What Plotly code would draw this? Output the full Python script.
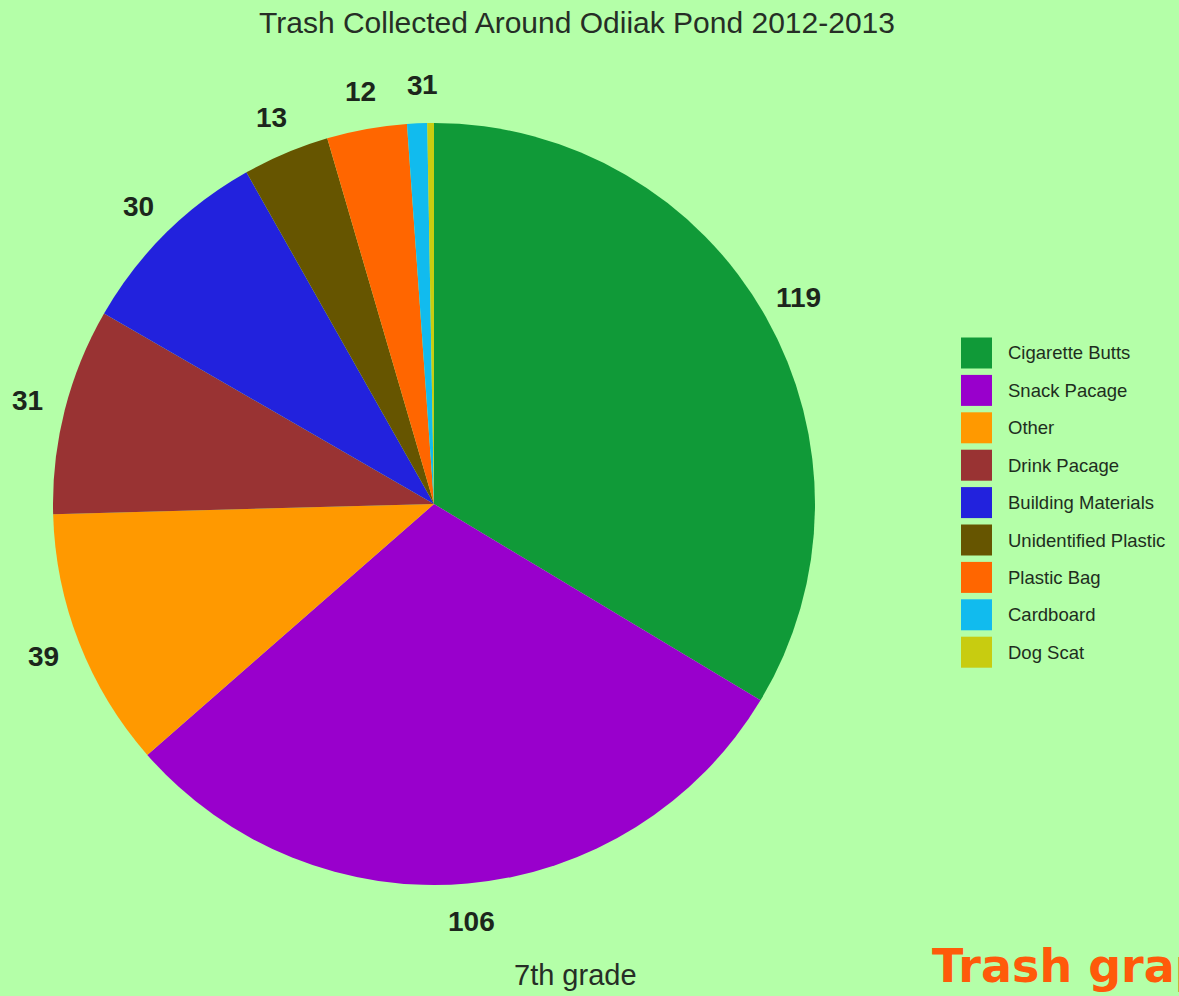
import math
import plotly.graph_objects as go

# ---- data ----
categories = ["Cigarette Butts", "Snack Pacage", "Other", "Drink Pacage",
              "Building Materials", "Unidentified Plastic", "Plastic Bag",
              "Cardboard", "Dog Scat"]
counts = [119, 106, 39, 31, 30, 13, 12, 3, 1]
colors = ["#109A38", "#9900CC", "#FF9900", "#993333", "#2222DD",
          "#665500", "#FF6600", "#11BBEE", "#C8CC10"]

title_text = "Trash Collected Around Odiiak Pond 2012-2013"
footer_text = "7th grade"
corner_text = "Trash graph"

# ---- layout constants (pixels) ----
W, H = 1179, 996
CX, CY, R = 434, 504, 381
LABEL_R = 1.10 * R
BG = "#B4FFA8"
TEXT_DARK = "#1C261C"

fig = go.Figure()
fig.add_trace(go.Pie(
    labels=categories,
    values=counts,
    marker=dict(colors=colors, line=dict(width=0)),
    sort=False,
    direction="clockwise",
    rotation=0,
    textinfo="none",
    hoverinfo="label+value+percent",
    showlegend=False,
    domain=dict(x=[(CX - R) / W, (CX + R) / W],
                y=[(H - CY - R) / H, (H - CY + R) / H]),
))

annotations = []
# value labels around the pie, placed at each slice's mid-angle
total = sum(counts)
cum = 0.0
for v in counts:
    mid = (cum + v / 2) / total * 2 * math.pi
    cum += v
    px = CX + LABEL_R * math.sin(mid)
    py = CY - LABEL_R * math.cos(mid)
    annotations.append(dict(
        x=px / W, y=1 - py / H, xref="paper", yref="paper",
        text=f"<b>{v}</b>", showarrow=False,
        xanchor="center", yanchor="middle",
        font=dict(family="Liberation Sans, Arial", size=28, color=TEXT_DARK),
    ))

# custom legend (large square swatches)
LEG_X, LEG_Y0, LEG_STEP, SW = 961, 353, 37.4, 31
shapes = []
for i, (cat, col) in enumerate(zip(categories, colors)):
    yc = LEG_Y0 + i * LEG_STEP
    shapes.append(dict(
        type="rect", xref="paper", yref="paper",
        x0=LEG_X / W, x1=(LEG_X + SW) / W,
        y0=1 - (yc + SW / 2) / H, y1=1 - (yc - SW / 2) / H,
        fillcolor=col, line=dict(width=0),
    ))
    annotations.append(dict(
        x=(LEG_X + SW + 14) / W, y=1 - yc / H, xref="paper", yref="paper",
        text=cat, showarrow=False, xanchor="left", yanchor="middle",
        font=dict(family="Liberation Sans, Arial", size=18.5, color="#1E2E1E"),
    ))

# title
annotations.append(dict(
    x=577 / W, y=1 - 22 / H, xref="paper", yref="paper",
    text=title_text, showarrow=False, xanchor="center", yanchor="middle",
    font=dict(family="Liberation Sans, Arial", size=30, color="#262E26"),
))
# footer
annotations.append(dict(
    x=575 / W, y=1 - 975 / H, xref="paper", yref="paper",
    text=footer_text, showarrow=False, xanchor="center", yanchor="middle",
    font=dict(family="Liberation Sans, Arial", size=29, color="#262E26"),
))
# corner text, cut off by the page edge (as in the reference)
annotations.append(dict(
    x=930 / W, y=1 - 966 / H, xref="paper", yref="paper",
    text=f"<b>{corner_text}</b>", showarrow=False, xanchor="left", yanchor="middle",
    font=dict(family="DejaVu Sans, sans-serif", size=46, color="#FF5A0A"),
))

fig.update_layout(
    width=W, height=H,
    margin=dict(l=0, r=0, t=0, b=0),
    paper_bgcolor=BG, plot_bgcolor=BG,
    annotations=annotations,
    shapes=shapes,
)

fig.write_html(
    "out.html",
    config={"displayModeBar": False},
    post_script=("document.body.style.margin='0';"
                 "document.body.style.overflow='hidden';"
                 "document.body.style.background='" + BG + "';"),
)
